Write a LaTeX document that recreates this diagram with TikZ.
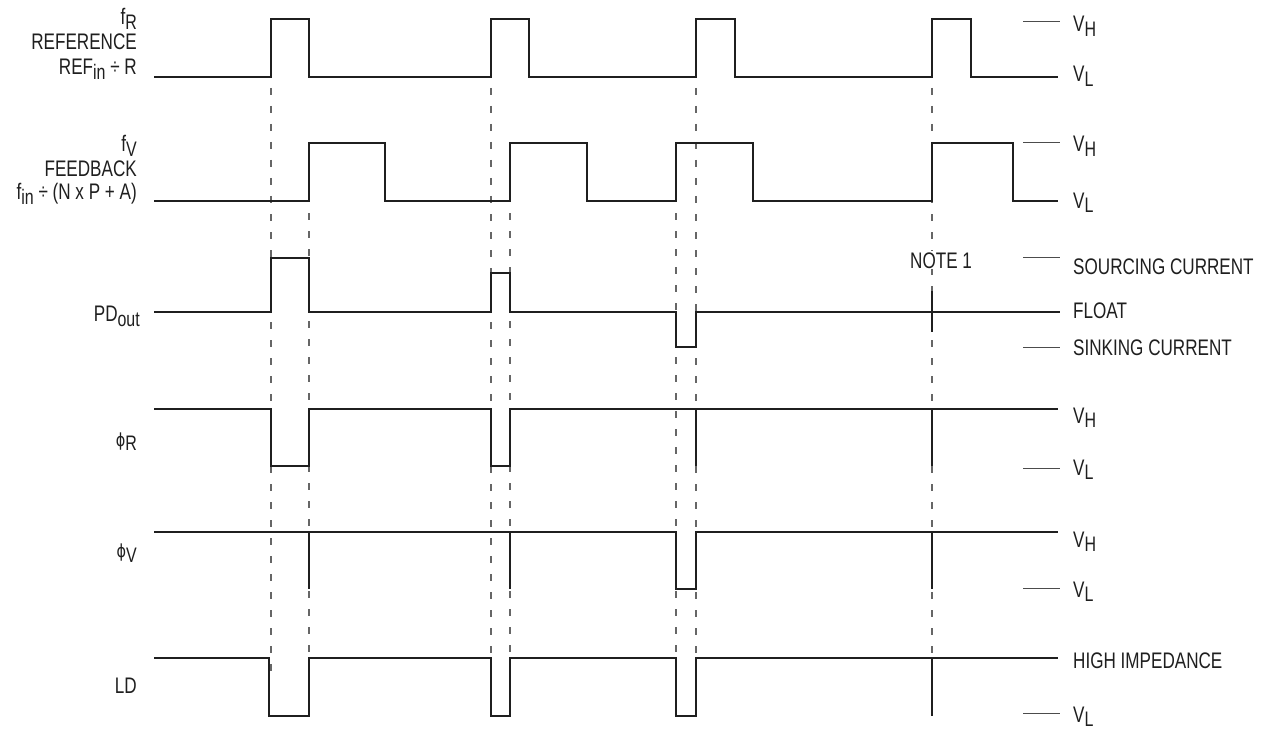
\documentclass[tikz,border=0pt]{standalone}
\usepackage{fontspec}
\setmainfont{Liberation Sans}[FakeStretch=0.76]
\newfontfamily\phifont{DejaVu Sans}[FakeStretch=0.8]
\newcommand\sbx[1]{\raisebox{-4.5pt}{\fontsize{21}{21}\selectfont #1}}
\newcommand\phis{{\phifont\fontsize{18}{18}\selectfont ϕ}}
\begin{document}
\begin{tikzpicture}[x=1pt,y=-1pt,
  sig/.style={draw=black!88,line width=2.4pt,line join=miter},
  dsh/.style={draw=black!60,line width=1.2pt,dash pattern=on 7pt off 11pt},
  mrk/.style={draw=black!70,line width=1pt},
  lbl/.style={text=black!88,inner sep=0pt,font=\fontsize{22.5}{22.5}\selectfont}]
\useasboundingbox (0,0) rectangle (1268,730);
\fill[white] (0,0) rectangle (1268,730);
% dashed alignment lines
\draw[dsh] (271,88) -- (271,672);
\draw[dsh] (309,213) -- (309,658);
\draw[dsh] (491,88) -- (491,658);
\draw[dsh] (510,213) -- (510,658);
\draw[dsh] (676,213) -- (676,658);
\draw[dsh] (696,88) -- (696,658);
\draw[dsh] (932,88) -- (932,658);
% fR
\draw[sig] (154,77) -- (271,77) -- (271,19) -- (309,19) -- (309,77) -- (491,77) -- (491,19) -- (529,19) -- (529,77) -- (696,77) -- (696,19) -- (735,19) -- (735,77) -- (932,77) -- (932,19) -- (971,19) -- (971,77) -- (1058,77);
% fV
\draw[sig] (154,201) -- (309,201) -- (309,143) -- (385,143) -- (385,201) -- (510,201) -- (510,143) -- (587,143) -- (587,201) -- (676,201) -- (676,143) -- (753,143) -- (753,201) -- (932,201) -- (932,143) -- (1013,143) -- (1013,201) -- (1058,201);
% PDout
\draw[sig] (154,312) -- (271,312) -- (271,258) -- (309,258) -- (309,312) -- (491,312) -- (491,273) -- (510,273) -- (510,312) -- (676,312) -- (676,347) -- (696,347) -- (696,312) -- (1060,312);
\draw[sig] (932,291) -- (932,332);
% phiR
\draw[sig] (154,409) -- (271,409) -- (271,466) -- (309,466) -- (309,409) -- (491,409) -- (491,466) -- (510,466) -- (510,409) -- (1058,409);
\draw[sig] (696,409) -- (696,466);
\draw[sig] (932,409) -- (932,466);
% phiV
\draw[sig] (154,532) -- (676,532) -- (676,589) -- (696,589) -- (696,532) -- (1058,532);
\draw[sig] (309,532) -- (309,589);
\draw[sig] (510,532) -- (510,589);
\draw[sig] (932,532) -- (932,589);
% LD
\draw[sig] (154,658) -- (269,658) -- (269,716) -- (309,716) -- (309,658) -- (491,658) -- (491,716) -- (510,716) -- (510,658) -- (676,658) -- (676,716) -- (696,716) -- (696,658) -- (1058,658);
\draw[sig] (932,658) -- (932,716);
% level markers
\foreach \yy in {22,143,257,347,468,588,713}
  \draw[mrk] (1023,\yy) -- (1060,\yy);
% left labels
\node[lbl,anchor=base east] (lfr) at (137,25) {f\sbx{R}};
\node[lbl,anchor=base east] (lref) at (137,49.3) {REFERENCE};
\node[lbl,anchor=base east] (lrefin) at (137,75) {REF\sbx{in} ÷ R};
\node[lbl,anchor=base east] (lfv) at (137,152) {f\sbx{V}};
\node[lbl,anchor=base east] (lfb) at (137,176.7) {FEEDBACK};
\node[lbl,anchor=base east] (lfin) at (137,200) {f\sbx{in} ÷ (N x P + A)};
\node[lbl,anchor=base east] (lpd) at (140,321.7) {PD\sbx{out}};
\node[lbl,anchor=base east] (lphr) at (137,446) {\phis\sbx{R}};
\node[lbl,anchor=base east] (lphv) at (137,557.7) {\phis\sbx{V}};
\node[lbl,anchor=base east] (lld) at (137,693.3) {LD};
% right labels
\node[lbl,anchor=base west] (r1) at (1073,31.7) {V\sbx{H}};
\node[lbl,anchor=base west] (r2) at (1073,81.7) {V\sbx{L}};
\node[lbl,anchor=base west] (r3) at (1073,151.7) {V\sbx{H}};
\node[lbl,anchor=base west] (r4) at (1073,208) {V\sbx{L}};
\node[lbl,anchor=base west] (r5) at (1073,274) {SOURCING CURRENT};
\node[lbl,anchor=base west] (r6) at (1073,318) {FLOAT};
\node[lbl,anchor=base west] (r7) at (1073,355) {SINKING CURRENT};
\node[lbl,anchor=base west] (r8) at (1073,423) {V\sbx{H}};
\node[lbl,anchor=base west] (r9) at (1073,475) {V\sbx{L}};
\node[lbl,anchor=base west] (r10) at (1073,547) {V\sbx{H}};
\node[lbl,anchor=base west] (r11) at (1073,597) {V\sbx{L}};
\node[lbl,anchor=base west] (r12) at (1073,668) {HIGH IMPEDANCE};
\node[lbl,anchor=base west] (r13) at (1073,722) {V\sbx{L}};
% note
\node[lbl,anchor=base west,fill=white,inner sep=1pt] (note) at (909,268) {NOTE 1};
\end{tikzpicture}
\end{document}
